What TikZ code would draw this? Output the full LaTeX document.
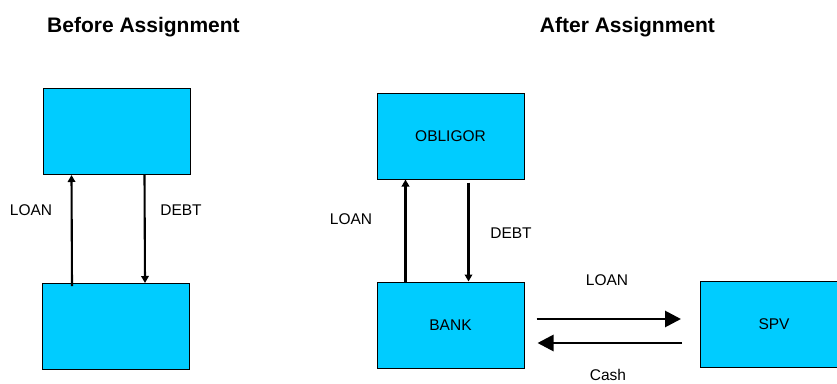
\documentclass[tikz,border=0pt]{standalone}
\usepackage{fontspec}
\setmainfont{Liberation Sans}
\usetikzlibrary{arrows.meta,calc}
\definecolor{boxcyan}{HTML}{00CCFF}
\begin{document}
\begin{tikzpicture}[x=1pt,y=-1pt,
  box/.style={draw=black,line width=1pt,fill=boxcyan,minimum width=147pt,minimum height=86pt,inner sep=0pt,font=\fontsize{15.5}{18}\selectfont},
  lbl/.style={font=\fontsize{15.5}{18}\selectfont,inner sep=0pt},
  ttl/.style={font=\fontsize{21}{25}\selectfont\bfseries,inner sep=0pt},
  varrow/.style={line width=2.1pt,-{Triangle[length=7pt,width=7.5pt]}},
  harrow/.style={line width=2.8pt,-{Triangle[length=16pt,width=16pt]}}]
\clip (0,0) rectangle (837,383);
\fill[white] (0,0) rectangle (837,383);
% titles
\node[ttl] (t1) at (143.5,27) {Before Assignment};
\node[ttl] (t2) at (627.5,27) {After Assignment};
% before
\node[box] (bt) at (116.5,131.5) {};
\node[box] (bb) at (116,326.5) {};
\draw[varrow] ([xshift=30pt,yshift=-3pt]bb.north west) -- ([xshift=29pt]bt.south west);
\draw[varrow] ([xshift=102pt]bt.south west) -- ([xshift=103pt]bb.north west);
\node[lbl] (l1) at (31,210) {LOAN};
\node[lbl] (d1) at (181,210) {DEBT};
% after
\node[box] (ob) at (450.5,136) {OBLIGOR};
\node[box] (bank) at (450.5,325) {BANK};
\node[box] (spv) at (774,324) {SPV};
\draw[varrow] ([xshift=29pt]bank.north west) -- ([xshift=29pt]ob.south west);
\draw[varrow] ([xshift=92pt,yshift=-3pt]ob.south west) -- ([xshift=92pt]bank.north west);
\node[lbl] (l2) at (351,219) {LOAN};
\node[lbl] (d2) at (511,233) {DEBT};
\coordinate (a1s) at ($(bank.east)+(12,-6)$);
\coordinate (a1e) at ($(spv.west)+(-19,-5)$);
\coordinate (a2s) at ($(spv.west)+(-18,19)$);
\coordinate (a2e) at ($(bank.east)+(13,18)$);
\draw[harrow] (a1s) -- (a1e);
\draw[harrow] (a2s) -- (a2e);
\node[lbl] (l3) at (607,280) {LOAN};
\node[lbl] (c3) at (608,374.5) {Cash};
\end{tikzpicture}
\end{document}
